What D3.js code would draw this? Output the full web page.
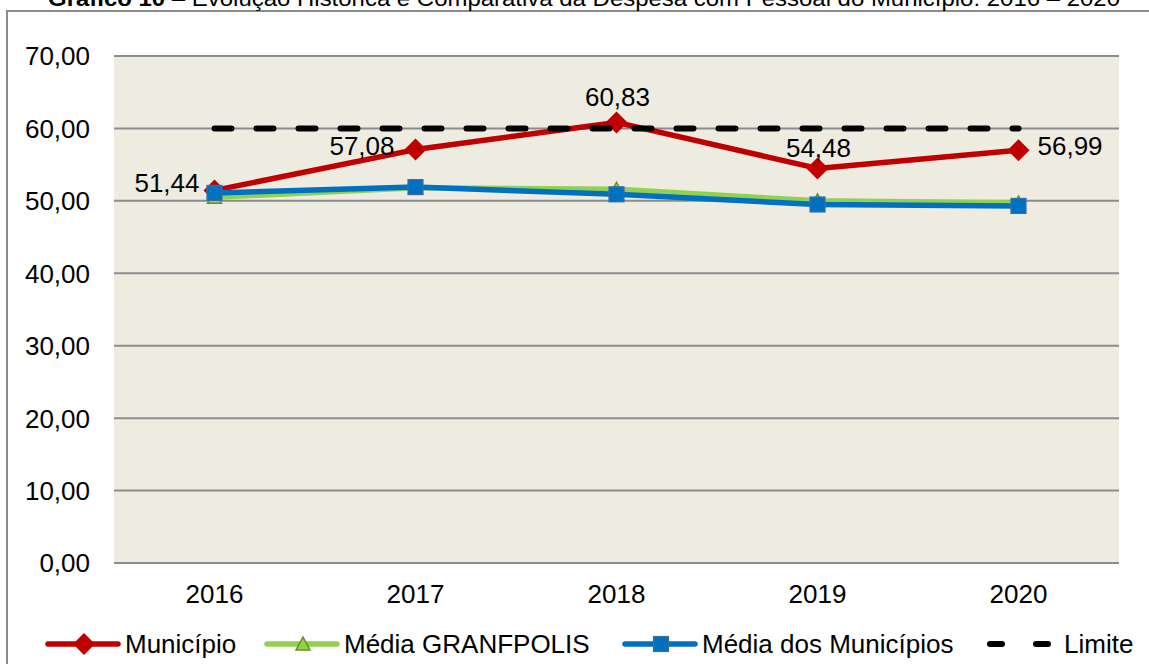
<!DOCTYPE html>
<html>
<head>
<meta charset="utf-8">
<script src="https://cdn.jsdelivr.net/npm/d3@7"></script>
<style>
  body { margin: 0; background: #fff; }
  svg { display: block; font-family: "Liberation Sans", Arial, sans-serif; }
</style>
</head>
<body>
<svg></svg>
<script>
const years = ['2016', '2017', '2018', '2019', '2020'];
const municipio = [51.44, 57.08, 60.83, 54.48, 56.99];
const granfpolis = [50.5, 51.8, 51.6, 50.0, 49.7];
const mediaMunicipios = [51.1, 51.9, 50.9, 49.5, 49.3];
const limite = [60, 60, 60, 60, 60];
const yTicks = [0, 10, 20, 30, 40, 50, 60, 70];
const labelPos = ['left', 'left', 'above', 'above', 'right'];

const size = {w: 1149, h: 664};
const plot = {l: 114, r: 1119, t: 56, b: 563};
const svg = d3.select('svg')
    .attr('width', size.w)
    .attr('height', size.h);

const fmt = v => d3.format('.2f')(v).replace('.', ',');

// outer frame
svg.append('rect')
    .attr('x', 7).attr('y', 11)
    .attr('width', 1200).attr('height', 700)
    .attr('fill', 'none')
    .attr('stroke', '#8c8c8c')
    .attr('stroke-width', 2);

// title
const title = svg.append('text')
    .attr('x', 48).attr('y', 5.5)
    .attr('font-size', 22)
    .attr('textLength', 1072)
    .attr('lengthAdjust', 'spacingAndGlyphs');
title.append('tspan').attr('font-weight', 'bold').text('Gráfico 10');
title.append('tspan').text(' – Evolução Histórica e Comparativa da Despesa com Pessoal do Município: 2016 – 2020');

const x = d3.scalePoint()
    .domain(years)
    .range([plot.l, plot.r])
    .padding(0.5);

const y = d3.scaleLinear()
    .domain([0, 70])
    .range([plot.b, plot.t]);

svg.append('rect')
    .attr('x', plot.l).attr('y', plot.t)
    .attr('width', plot.r - plot.l).attr('height', plot.b - plot.t)
    .attr('fill', '#eeece1');

// gridlines
svg.append('g')
    .selectAll('line')
    .data(yTicks)
    .join('line')
    .attr('x1', plot.l).attr('x2', plot.r)
    .attr('y1', d => y(d)).attr('y2', d => y(d))
    .attr('stroke', '#8c8c8c')
    .attr('stroke-width', 2);

// y labels
svg.append('g')
    .selectAll('text')
    .data(yTicks)
    .join('text')
    .attr('x', 90)
    .attr('y', d => y(d))
    .attr('dy', '0.36em')
    .attr('text-anchor', 'end')
    .attr('font-size', 26)
    .text(d => fmt(d));

// x labels
svg.append('g')
    .selectAll('text')
    .data(years)
    .join('text')
    .attr('x', d => x(d))
    .attr('y', 603)
    .attr('text-anchor', 'middle')
    .attr('font-size', 26)
    .text(d => d);

const line = d3.line()
    .x((d, i) => x(years[i]))
    .y(d => y(d));

const series = [
    {name: 'Município', values: municipio, color: '#c00000', marker: 'diamond'},
    {name: 'Média GRANFPOLIS', values: granfpolis, color: '#92d050', marker: 'triangle'},
    {name: 'Média dos Municípios', values: mediaMunicipios, color: '#0070c0', marker: 'square'},
    {name: 'Limite', values: limite, color: '#000', marker: null, dash: '17,25'}
];

function drawMarker(g, type, cx, cy) {
    if (type === 'diamond') {
        g.append('path')
            .attr('d', `M${cx},${cy - 11}L${cx + 11},${cy}L${cx},${cy + 11}L${cx - 11},${cy}Z`)
            .attr('fill', '#c00000');
    } else if (type === 'triangle') {
        g.append('path')
            .attr('d', `M${cx},${cy - 7}L${cx + 7},${cy + 6}L${cx - 7},${cy + 6}Z`)
            .attr('fill', '#92d050')
            .attr('stroke', '#6b8e23')
            .attr('stroke-width', 1.5);
    } else if (type === 'square') {
        g.append('rect')
            .attr('x', cx - 7.5).attr('y', cy - 7.5)
            .attr('width', 15).attr('height', 15)
            .attr('fill', '#0070c0')
            .attr('stroke', '#3b6ea0')
            .attr('stroke-width', 1.2);
    }
}

series.forEach(s => {
    const g = svg.append('g');
    g.append('path')
        .datum(s.values)
        .attr('d', line)
        .attr('fill', 'none')
        .attr('stroke', s.color)
        .attr('stroke-width', s.dash ? 6 : 5.5)
        .attr('stroke-linecap', 'round')
        .attr('stroke-linejoin', 'round')
        .attr('stroke-dasharray', s.dash || null);
    if (s.marker) {
        s.values.forEach((v, i) => drawMarker(g, s.marker, x(years[i]), y(v)));
    }
});

// data labels for Município
svg.append('g')
    .selectAll('text')
    .data(municipio)
    .join('text')
    .attr('font-size', 26)
    .attr('x', (d, i) => {
        const p = labelPos[i];
        if (p === 'left') return x(years[i]) - (i === 0 ? 15 : 21);
        if (p === 'right') return x(years[i]) + 19;
        return x(years[i]) + 1;
    })
    .attr('y', (d, i) => {
        const p = labelPos[i];
        if (p === 'above') return y(d) - (i === 2 ? 16 : 11);
        return y(d) + (i === 0 ? 1.5 : 5);
    })
    .attr('text-anchor', (d, i) => labelPos[i] === 'left' ? 'end' : labelPos[i] === 'right' ? 'start' : 'middle')
    .text(d => fmt(d));

// legend
const legendItems = [
    {s: series[0], x0: 48},
    {s: series[1], x0: 267},
    {s: series[2], x0: 625},
    {s: series[3], x0: 987}
];
const ly = 644;
legendItems.forEach(it => {
    const g = svg.append('g');
    g.append('line')
        .attr('x1', it.x0).attr('x2', it.x0 + 70)
        .attr('y1', ly).attr('y2', ly)
        .attr('stroke', it.s.color)
        .attr('stroke-width', it.s.dash ? 6 : 5.5)
        .attr('stroke-linecap', 'round')
        .attr('stroke-dasharray', it.s.dash ? '12,34' : null)
        .attr('stroke-dashoffset', it.s.dash ? -3 : null);
    if (it.s.marker) drawMarker(g, it.s.marker, it.x0 + 36, ly);
    g.append('text')
        .attr('x', it.x0 + 77)
        .attr('y', ly + 9)
        .attr('font-size', 26)
        .text(it.s.name);
});
</script>
</body>
</html>
